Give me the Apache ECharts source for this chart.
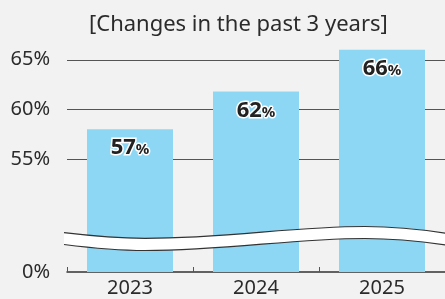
<!DOCTYPE html>
<html>
<head>
<meta charset="utf-8">
<script src="https://cdn.jsdelivr.net/npm/echarts@6/dist/echarts.min.js"></script>
<style>
  html, body { margin: 0; padding: 0; background: #f2f2f2; }
  #chart { width: 445px; height: 299px; }
</style>
</head>
<body>
<div id="chart"></div>
<script>
// data
const years = ['2023', '2024', '2025']
const shares = [58, 61.8, 66]          // bar heights as drawn
const shareLabels = ['57', '62', '66']  // printed labels
// the axis is broken: its foot (shown as 0%) sits at 43.6 on the drawn scale
const axisFoot = 43.6
const gridValues = [55, 60, 65]
const yTickValues = [axisFoot, 55, 60, 65]
const yTickLabels = ['0%', '55%', '60%', '65%']

const font = '"Noto Sans", sans-serif'

// wavy break band across the plot
const waveTop = 'M64 232.7 C100 237,120 238.3,145 238.3 C230 238.3,290 226.5,365 226.5 C400 226.5,425 230,446 233.3'
const waveBottom = 'M64 244.5 C100 249,120 250.5,145 250.5 C230 250.5,290 238.5,365 238.5 C400 238.5,425 242,446 245'
const waveBand = waveTop + ' L446 245 C425 242,400 238.5,365 238.5 C290 238.5,230 250.5,145 250.5 C120 250.5,100 249,64 244.5 Z'

const chart = echarts.init(document.getElementById('chart'))

chart.setOption({
  backgroundColor: '#f2f2f2',
  animation: false,
  title: {
    text: '[Changes in the past 3 years]',
    left: 84,
    top: 9,
    textStyle: { fontFamily: font, fontSize: 22, fontWeight: 'normal', color: '#2b2b2b' },
  },
  grid: { left: 67, right: 0, top: 30, bottom: 27 },
  xAxis: {
    type: 'category',
    data: years,
    axisLine: { lineStyle: { color: '#333', width: 1.5 } },
    axisTick: { show: true, inside: true, length: 5, lineStyle: { color: '#555' } },
    axisLabel: { fontFamily: font, fontSize: 20, color: '#2b2b2b', margin: 6 },
  },
  yAxis: {
    type: 'value',
    min: axisFoot,
    max: 68,
    axisLine: { show: false },
    axisTick: { show: false, customValues: gridValues },
    axisLabel: {
      fontFamily: font,
      fontSize: 20,
      color: '#2b2b2b',
      margin: 17,
      customValues: yTickValues,
      formatter: (v) => yTickLabels[yTickValues.indexOf(v)] || '',
    },
    splitLine: { lineStyle: { color: '#555', width: 1 } },
  },
  series: [
    {
      type: 'bar',
      data: shares,
      barWidth: 86,
      itemStyle: { color: '#8dd7f5' },
      label: {
        show: true,
        position: 'insideTop',
        distance: 8,
        formatter: (p) => '{n|' + shareLabels[p.dataIndex] + '}{p|%}',
        rich: {
          n: {
            fontFamily: font, fontSize: 22, fontWeight: 'bold', color: '#222',
            textBorderColor: '#fff', textBorderWidth: 3,
          },
          p: {
            fontFamily: font, fontSize: 15, fontWeight: 'bold', color: '#222',
            textBorderColor: '#fff', textBorderWidth: 3, padding: [4, 0, 0, 0],
          },
        },
      },
    },
    {
      type: 'custom',
      data: [0],
      z: 10,
      clip: false,
      silent: true,
      renderItem: () => ({
        type: 'group',
        children: [
          { type: 'path', shape: { pathData: waveBand }, style: { fill: '#fff', stroke: null } },
          { type: 'path', shape: { pathData: waveTop }, style: { fill: null, stroke: '#333', lineWidth: 1.2 } },
          { type: 'path', shape: { pathData: waveBottom }, style: { fill: null, stroke: '#333', lineWidth: 1.2 } },
        ],
      }),
    },
  ],
})
</script>
</body>
</html>
